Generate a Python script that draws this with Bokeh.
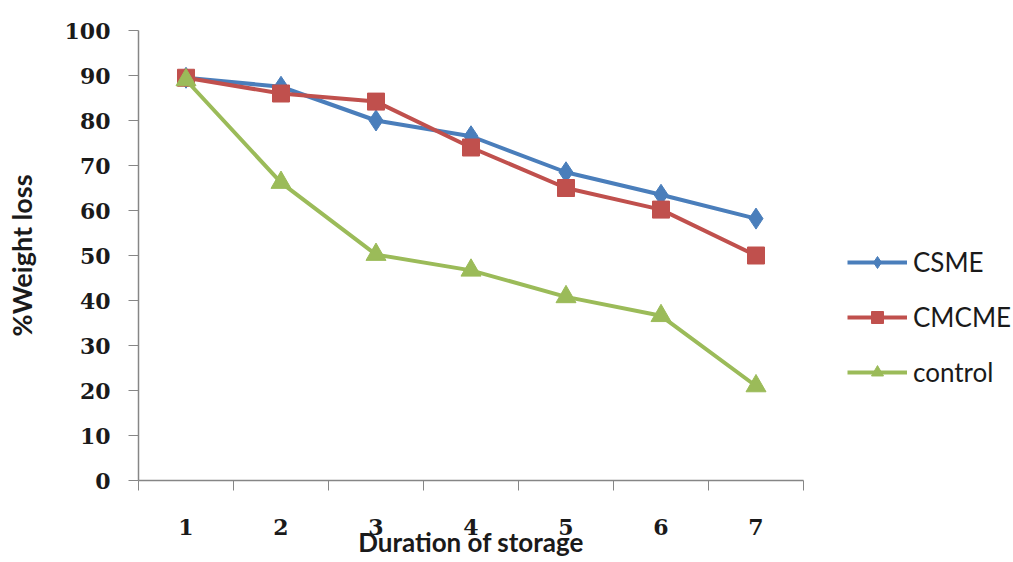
from bokeh.plotting import figure
from bokeh.models import FixedTicker, Legend, LegendItem, Range1d
from bokeh.embed import file_html
from bokeh.resources import INLINE

# Storage duration (days) and percentage weight loss per coating treatment
days = [1, 2, 3, 4, 5, 6, 7]
csme = [89.5, 87.5, 80.0, 76.5, 68.5, 63.5, 58.2]
cmcme = [89.5, 86.0, 84.2, 74.0, 65.0, 60.2, 50.0]
control = [89.0, 66.2, 50.2, 46.7, 40.8, 36.6, 21.0]
y_ticks = [0, 10, 20, 30, 40, 50, 60, 70, 80, 90, 100]

series = [
    ("CSME", csme, "#4A7EBB", "diamond", 21),
    ("CMCME", cmcme, "#C0504D", "square", 17),
    ("control", control, "#9BBB59", "triangle", 20),
]

p = figure(
    width=1013, height=562,
    frame_width=665, frame_height=450,
    output_backend="svg", toolbar_location=None,
    x_range=Range1d(0.5, 7.5), y_range=Range1d(0, 100),
    min_border_left=138, min_border_right=0,
    min_border_top=30, min_border_bottom=0,
)
p.outline_line_color = None
p.xgrid.visible = False
p.ygrid.visible = False
p.background_fill_color = "white"
p.border_fill_color = "white"

tick_font = "DejaVu Serif"
text_color = "#1a1a1a"
axis_color = "#868686"

# x axis: labels at category centres, tick marks on category boundaries
xa = p.xaxis[0]
xa.ticker = FixedTicker(ticks=days, minor_ticks=[d - 0.5 for d in days] + [7.5])
xa.major_tick_out = 0
xa.major_tick_in = 0
xa.minor_tick_out = 10
xa.minor_tick_in = 0
xa.minor_tick_line_color = axis_color
xa.axis_line_color = axis_color
xa.axis_line_width = 1.5
xa.major_label_standoff = 28
xa.major_label_text_font = tick_font
xa.major_label_text_font_style = "bold"
xa.major_label_text_font_size = "22px"
xa.major_label_text_color = text_color
xa.axis_label = "Duration of storage"
xa.axis_label_standoff = -12
xa.axis_label_text_font = "Lato"
xa.axis_label_text_font_style = "bold"
xa.axis_label_text_font_size = "26px"
xa.axis_label_text_color = text_color

ya = p.yaxis[0]
ya.ticker = FixedTicker(ticks=y_ticks)
ya.major_tick_out = 10
ya.major_tick_in = 0
ya.minor_tick_out = 0
ya.minor_tick_in = 0
ya.major_tick_line_color = axis_color
ya.axis_line_color = axis_color
ya.axis_line_width = 1.5
ya.major_label_standoff = 18
ya.major_label_text_font = tick_font
ya.major_label_text_font_style = "bold"
ya.major_label_text_font_size = "22px"
ya.major_label_text_color = text_color
ya.axis_label = "%Weight loss"
ya.axis_label_standoff = 24
ya.axis_label_text_font = "Lato"
ya.axis_label_text_font_style = "bold"
ya.axis_label_text_font_size = "27px"
ya.axis_label_text_color = text_color

items = []
for name, vals, color, marker, size in series:
    ln = p.line(days, vals, line_color=color, line_width=4)
    sc = p.scatter(days, vals, marker=marker, size=size,
                   fill_color=color, line_color=color)
    items.append(LegendItem(label=name, renderers=[ln, sc]))

legend = Legend(
    items=items, location=(44, 92),
    glyph_width=60, glyph_height=30, label_height=30,
    label_standoff=6, spacing=23, padding=0, margin=0,
    border_line_color=None, background_fill_alpha=0,
    label_text_font="Lato", label_text_font_size="26px",
    label_text_color=text_color,
)
p.add_layout(legend, "right")

open("out.html", "w").write(file_html(p, INLINE))
